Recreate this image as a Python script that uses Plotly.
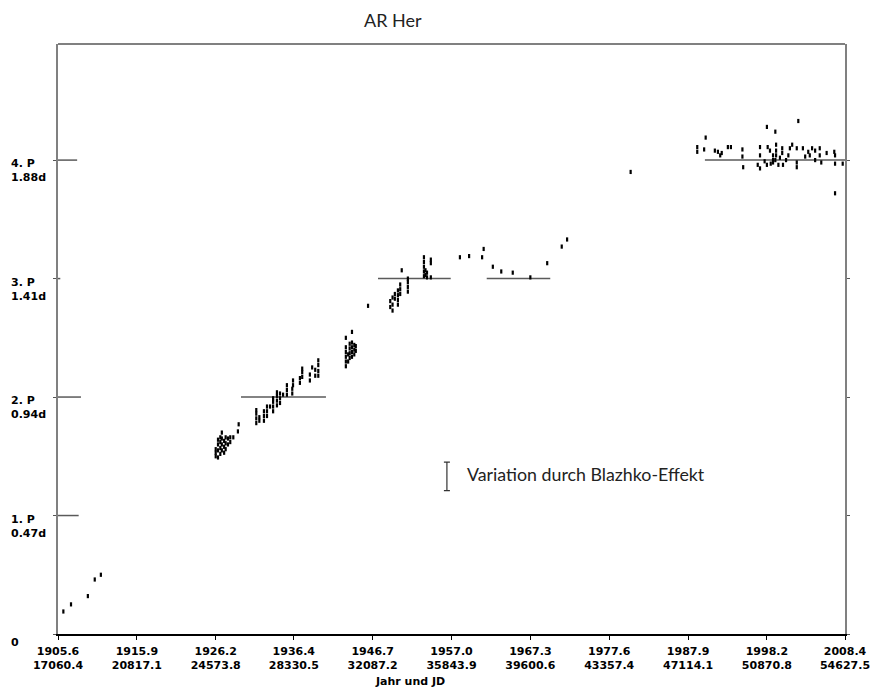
import plotly.graph_objects as go

# ---------------- data ----------------
# O-C in units of the (fundamental) period, plotted against year
years = [
    1906.3, 1907.3, 1909.5, 1910.4, 1911.2,
    # 1926-1940
    1926.2, 1926.2, 1926.2,
    1926.5, 1926.5, 1926.5, 1926.5,
    1926.8, 1926.8, 1926.8, 1926.8,
    1927.0, 1927.0, 1927.0, 1927.0,
    1927.3, 1927.3, 1927.3,
    1927.5, 1927.5, 1927.5,
    1927.8, 1927.8,
    1928.1, 1928.1, 1928.5, 1929.1, 1929.2,
    1931.5, 1931.5, 1931.5, 1931.5,
    1931.9, 1931.9,
    1932.5, 1932.5, 1932.5,
    1932.9, 1932.9, 1932.9,
    1933.3,
    1933.7, 1933.7, 1933.7, 1933.7,
    1934.2, 1934.2, 1934.2, 1934.2,
    1934.6, 1934.6, 1934.6,
    1935.0,
    1935.5, 1935.5, 1935.5,
    1936.2, 1936.2, 1936.3, 1936.3,
    1937.2, 1937.2,
    1937.5, 1937.5, 1937.5,
    1938.5, 1938.5, 1938.8,
    1939.2, 1939.2,
    1939.6, 1939.6, 1939.6, 1939.6,
    # 1943-1944
    1943.2, 1943.2, 1943.2, 1943.2, 1943.2, 1943.2,
    1943.5, 1943.5,
    1943.7, 1943.7, 1943.7, 1943.7,
    1944.0, 1944.0, 1944.0, 1944.0, 1944.0,
    1944.3, 1944.3, 1944.3,
    1944.5, 1944.5,
    1946.1,
    # 1949-1954
    1949.0, 1949.0,
    1949.3, 1949.3, 1949.3,
    1949.6, 1949.6,
    1950.0, 1950.0, 1950.0, 1950.0,
    1950.3, 1950.3, 1950.3,
    1950.5,
    1951.3, 1951.3, 1951.3, 1951.3,
    1953.4, 1953.4, 1953.4, 1953.4, 1953.4,
    1953.6, 1953.6,
    1953.8, 1953.8,
    1954.3, 1954.3, 1954.3,
    # 1958-1980
    1958.1, 1959.3, 1961.0, 1961.2, 1962.4, 1963.5, 1965.0, 1967.3,
    1969.5, 1971.4, 1972.1, 1980.4,
    # 1989-2008
    1989.1, 1989.1, 1990.0, 1990.2, 1991.4, 1991.8, 1992.1, 1992.3,
    1993.1, 1993.5, 1995.0, 1995.0, 1995.1,
    1997.3, 1997.3, 1997.0, 1997.3, 1998.2, 1998.2, 1999.3,
    1998.3, 1998.6, 1999.0, 1999.0, 1999.0,
    1999.4, 1999.4, 1999.4, 1999.7,
    2000.2, 2000.2, 2000.3, 2001.2, 2001.5,
    2002.1, 2002.1, 2002.1, 2002.3,
    2002.9, 2003.2, 2003.6, 2003.8, 2004.1,
    2004.5, 2004.5, 2005.1, 2005.1, 2005.3,
    2006.0, 2007.0, 2007.1, 2007.1, 2007.1, 2008.1,
    1997.9, 1998.7, 1999.3, 1999.9, 2000.7, 2001.0,
]

oc_periods = [
    0.19, 0.25, 0.32, 0.46, 0.50,
    1.50, 1.53, 1.56,
    1.49, 1.55, 1.60, 1.64,
    1.52, 1.57, 1.62, 1.66,
    1.55, 1.60, 1.65, 1.70,
    1.53, 1.58, 1.63,
    1.56, 1.61, 1.66,
    1.60, 1.65,
    1.66, 1.62, 1.66, 1.71, 1.77,
    1.78, 1.82, 1.86, 1.89,
    1.80, 1.83,
    1.80, 1.84, 1.88,
    1.84, 1.88, 1.92,
    1.92,
    1.88, 1.92, 1.96, 1.99,
    1.93, 1.97, 2.01, 2.04,
    1.95, 1.99, 2.03,
    2.02,
    2.02, 2.06, 2.10,
    2.03, 2.07, 2.10, 2.14,
    2.12, 2.16,
    2.17, 2.21, 2.24,
    2.14, 2.19, 2.25,
    2.18, 2.23,
    2.18, 2.22, 2.27, 2.31,
    2.26, 2.30, 2.34, 2.38, 2.42, 2.50,
    2.30, 2.36,
    2.33, 2.37, 2.41, 2.45,
    2.34, 2.38, 2.42, 2.46, 2.55,
    2.36, 2.40, 2.44,
    2.39, 2.43,
    2.77,
    2.76, 2.81,
    2.73, 2.78, 2.84,
    2.83, 2.87,
    2.78, 2.82, 2.86, 2.90,
    2.87, 2.91, 2.95,
    3.07,
    2.89, 2.93, 2.97, 3.00,
    3.02, 3.06, 3.10, 3.14, 3.18,
    3.03, 3.07,
    3.01, 3.05,
    3.13, 3.16, 3.01,
    3.18, 3.19, 3.18, 3.25, 3.10, 3.06, 3.05, 3.01,
    3.13, 3.27, 3.33, 3.90,
    4.11, 4.07, 4.09, 4.19, 4.08, 4.07, 4.04, 4.06,
    4.11, 4.11, 4.09, 4.03, 3.94,
    4.11, 4.04, 3.96, 3.93, 3.96, 4.28, 4.24,
    4.11, 4.08, 4.04, 4.00, 3.98,
    4.13, 4.08, 4.04, 3.96,
    4.10, 4.06, 3.96, 4.10, 4.13,
    4.10, 3.98, 3.94, 4.33,
    4.10, 4.03, 4.07, 4.04, 4.10,
    4.08, 4.00, 4.10, 4.04, 3.98,
    4.06, 4.07, 4.04, 3.97, 3.72, 3.97,
    3.99, 3.97, 4.00, 4.02, 4.00, 4.04,
]

# mean-period segments: start year, end year, level (periods)
seg_start = [1929.5, 1947.4, 1961.6, 1990.1, 1905.6, 1905.6, 1905.6, 1905.6]
seg_end = [1940.6, 1956.9, 1969.9, 2008.4, 1908.3, 1908.6, 1905.9, 1908.1]
seg_level = [2, 3, 3, 4, 1, 2, 3, 4]

# Blazhko variation bar
blazhko_year = 1956.4
blazhko_center = 1.33
blazhko_half = 0.12

# axis ticks
x_tick_years = ["1905.6", "1915.9", "1926.2", "1936.4", "1946.7", "1957.0",
                "1967.3", "1977.6", "1987.9", "1998.2", "2008.4"]
x_tick_jd = ["17060.4", "20817.1", "24573.8", "28330.5", "32087.2", "35843.9",
             "39600.6", "43357.4", "47114.1", "50870.8", "54627.5"]
y_tick_vals = [1, 2, 3, 4]
y_tick_period = ["1. P", "2. P", "3. P", "4. P"]
y_tick_days = ["0.47d", "0.94d", "1.41d", "1.88d"]

# ---------------- figure ----------------
fig = go.Figure()

for xs, xe, lv in zip(seg_start, seg_end, seg_level):
    fig.add_trace(go.Scatter(x=[xs, xe], y=[lv, lv], mode="lines",
                             line=dict(color="#5a5a5a", width=1.5),
                             hoverinfo="skip", showlegend=False))

fig.add_trace(go.Scatter(
    x=years, y=oc_periods, mode="markers",
    marker=dict(symbol="line-ns", size=3, color="black",
                line=dict(color="black", width=2.2)),
    showlegend=False))

fig.add_trace(go.Scatter(
    x=[blazhko_year], y=[blazhko_center], mode="markers",
    marker=dict(size=1, color="rgba(0,0,0,0)"),
    error_y=dict(type="data", array=[blazhko_half], width=3,
                 thickness=1.2, color="#333333"),
    showlegend=False))

fig.add_annotation(x=blazhko_year + 2.3, y=blazhko_center + 0.02,
                   xref="x", yref="y", xanchor="left", yanchor="middle",
                   text="Variation durch Blazhko-Effekt", showarrow=False,
                   font=dict(family="Lato", size=17.8, color="#222222"))

fig.add_annotation(x=0.4257, y=1, xref="paper", yref="paper",
                   xanchor="center", yanchor="top", yshift=36, borderpad=0,
                   text="AR Her", showarrow=False,
                   font=dict(family="Lato", size=18, color="#222222"))

fig.add_annotation(x=0.447, y=0, xref="paper", yref="paper",
                   xanchor="center", yanchor="middle", yshift=-47,
                   text="Jahr und JD", showarrow=False,
                   font=dict(family="DejaVu Sans", size=11, color="black",
                             weight="bold"))

tickfont = dict(family="DejaVu Sans", size=11, color="black", weight="bold")
for v, p, d in zip(y_tick_vals, y_tick_period, y_tick_days):
    fig.add_annotation(x=-0.0623, y=v, xref="paper", yref="y",
                       xanchor="left", yanchor="top", yshift=5, align="left",
                       text=p + "<br>" + d, showarrow=False, font=tickfont)
fig.add_annotation(x=-0.0623, y=0, xref="paper", yref="y",
                   xanchor="left", yanchor="top", yshift=0,
                   text="0", showarrow=False, font=tickfont)

fig.update_xaxes(
    range=[1905.6, 2008.4],
    tickvals=[float(t) for t in x_tick_years],
    ticktext=[a + "<br>" + b for a, b in zip(x_tick_years, x_tick_jd)],
    ticks="outside", ticklen=4, tickcolor="black", tickwidth=1,
    ticklabelstandoff=2,
    showline=True, linecolor="black", linewidth=1.5,
    showgrid=False, zeroline=False, tickfont=tickfont, automargin=False,
)
fig.update_yaxes(
    range=[0, 4.98],
    tickvals=[0, 1, 2, 3, 4],
    ticks="outside", ticklen=3, tickcolor="#555555",
    showticklabels=False,
    showline=True, linecolor="#808080", linewidth=2, mirror="ticks",
    showgrid=False, zeroline=False, automargin=False,
)

# top border
fig.add_shape(type="line", xref="paper", yref="paper", x0=0, x1=1, y0=1, y1=1,
              line=dict(color="#808080", width=2))

# the page adds an 8 px body margin, so the figure is sized to fill the rest
fig.update_layout(
    width=873, height=680,
    margin=dict(l=50, r=36, t=36, b=54, autoexpand=False),
    plot_bgcolor="white", paper_bgcolor="white",
    showlegend=False,
)

fig.write_html("out.html")
